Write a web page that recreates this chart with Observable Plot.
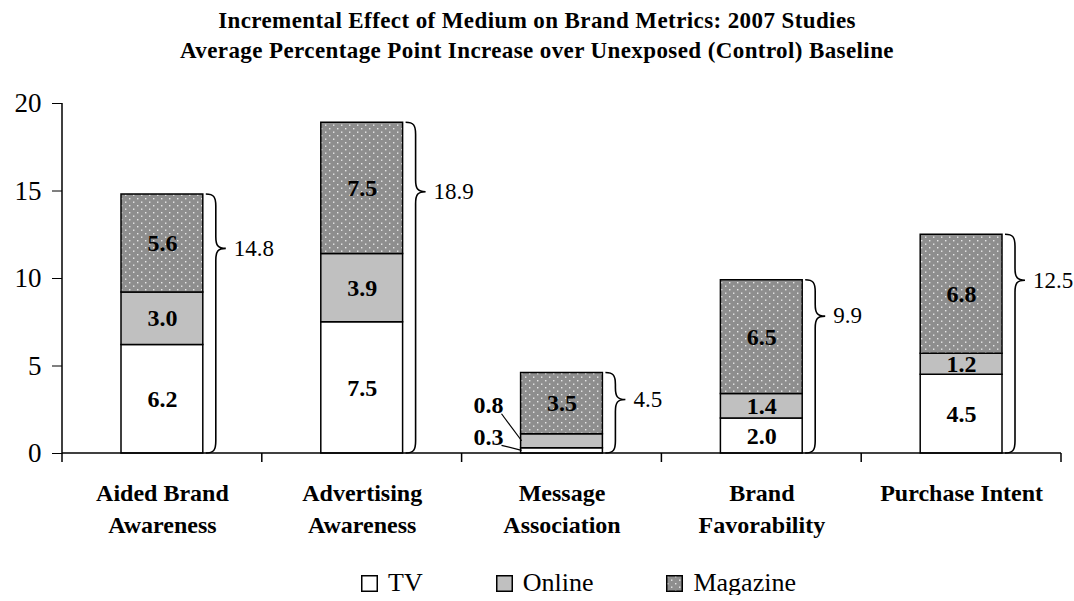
<!DOCTYPE html>
<html><head><meta charset="utf-8">
<script src="https://cdn.jsdelivr.net/npm/d3@7"></script>
<script src="https://cdn.jsdelivr.net/npm/@observablehq/plot@0.6"></script>
<style>
body{margin:0;background:#fff;font-family:"Liberation Serif","Times New Roman",serif;color:#000;}
#title{height:64px;box-sizing:border-box;padding-top:6px;text-align:center;font-weight:bold;font-size:23px;letter-spacing:0.4px;line-height:30px;white-space:nowrap;}
#legend{display:flex;align-items:center;margin-top:27px;height:24px;padding-left:361px;font-size:26px;line-height:24px;}
.item{display:flex;align-items:center;margin-right:73px}
.item svg{margin-right:10px;display:block}
</style></head><body>
<div id="title">Incremental Effect of Medium on Brand Metrics: 2007 Studies<br>Average Percentage Point Increase over Unexposed (Control) Baseline</div>
<div id="chart"></div>
<div id="legend"></div>
<script>
const categories = ["Aided Brand\nAwareness", "Advertising\nAwareness", "Message\nAssociation", "Brand\nFavorability", "Purchase Intent"];
const series = ["TV", "Online", "Magazine"];
const tv = [6.2, 7.5, 0.3, 2.0, 4.5];
const online = [3.0, 3.9, 0.8, 1.4, 1.2];
const magazine = [5.6, 7.5, 3.5, 6.5, 6.8];
const totals = [14.8, 18.9, 4.5, 9.9, 12.5];
const yTicks = [0, 5, 10, 15, 20];
const seriesFills = ["#ffffff", "#c0c0c0", "url(#magDots)"];
// labels drawn outside the bar with a leader line (category index, series index, pixel offsets)
const outsideLabels = [
  {cat: 2, ser: 1, dx: -73, dy: -35},
  {cat: 2, ser: 0, dx: -73, dy: -13}
];

const seriesValues = [tv, online, magazine];
const data = [];
categories.forEach((c, i) => {
  series.forEach((s, j) => {
    const outside = outsideLabels.some(o => o.cat === i && o.ser === j);
    data.push({cat: c, series: s, value: seriesValues[j][i], label: outside ? "" : seriesValues[j][i].toFixed(1)});
  });
});

const barInset = 59;
const patternDefs = (id) => `<defs><pattern id="${id}" width="8" height="7" patternUnits="userSpaceOnUse"><rect width="8" height="7" fill="#8e8e8e"/><rect x="1" y="1" width="1.4" height="1.4" fill="#e8e8e8"/><rect x="5" y="4.5" width="1.4" height="1.4" fill="#e8e8e8"/></pattern></defs>`;

function decor(index, scales, values, dimensions) {
  const x = scales.x, y = scales.y;
  const bw = x.bandwidth ? x.bandwidth() : (dimensions.width - dimensions.marginLeft - dimensions.marginRight) / categories.length;
  const left = dimensions.marginLeft, right = dimensions.width - dimensions.marginRight;
  const y0 = y(0);
  let s = "";
  s += `<line x1="${left}" x2="${left}" y1="${y(yTicks[yTicks.length - 1])}" y2="${y0 + 0.75}" stroke="black" stroke-width="1.5"/>`;
  s += `<line x1="${left}" x2="${right}" y1="${y0}" y2="${y0}" stroke="black" stroke-width="1.5"/>`;
  const bounds = categories.map(c => x(c)).concat([x(categories[categories.length - 1]) + bw]);
  bounds.forEach(b => { s += `<line x1="${b}" x2="${b}" y1="${y0}" y2="${y0 + 9}" stroke="black" stroke-width="1.5"/>`; });
  categories.forEach((c, i) => {
    const yt = y(tv[i] + online[i] + magazine[i]);
    const yb = y0;
    const xr = x(c) + bw - barInset;
    const x0 = xr + 3, xb = xr + 13, xt = xr + 23;
    const h = yb - yt;
    const tipY = yt + Math.max(0.21 * h, 27);
    const r = 12;
    const d = `M${x0},${yt} C${xb - 2},${yt} ${xb},${yt + 3} ${xb},${yt + r} L${xb},${tipY - r} C${xb},${tipY - 3} ${xb + 2},${tipY} ${xt},${tipY} C${xb + 2},${tipY} ${xb},${tipY + 3} ${xb},${tipY + r} L${xb},${yb - r} C${xb},${yb - 3} ${xb - 2},${yb} ${x0},${yb}`;
    s += `<path d="${d}" fill="none" stroke="black" stroke-width="1.6"/>`;
    s += `<text x="${xt + 8}" y="${tipY}" dy="0.32em" font-size="23" text-anchor="start">${totals[i].toFixed(1)}</text>`;
  });
  outsideLabels.forEach(o => {
    const c = categories[o.cat];
    let base = 0;
    for (let j = 0; j < o.ser; j++) base += seriesValues[j][o.cat];
    const v = seriesValues[o.ser][o.cat];
    const mid = y(base + v / 2);
    const barLeft = x(c) + barInset;
    const lx = x(c) + bw / 2 + o.dx, ly = mid + o.dy;
    s += `<text x="${lx}" y="${ly}" dy="0.32em" font-size="24" font-weight="bold" text-anchor="middle">${v.toFixed(1)}</text>`;
    s += `<line x1="${lx + 13}" y1="${ly + 8}" x2="${barLeft + 1}" y2="${mid}" stroke="black" stroke-width="1.2"/>`;
  });
  const g = document.createElementNS("http://www.w3.org/2000/svg", "g");
  g.innerHTML = patternDefs("magDots") + s;
  return g;
}

const chart = Plot.plot({
  width: 1074,
  height: 480,
  marginTop: 39,
  marginBottom: 91,
  marginLeft: 62,
  marginRight: 13,
  style: {fontFamily: "Liberation Serif, Times New Roman, serif", fontSize: "27px", color: "black", background: "white"},
  x: {domain: categories, padding: 0, round: false, axis: null},
  y: {domain: [0, 20], ticks: yTicks, tickSize: 10, tickPadding: 11, label: null, tickFormat: d3.format("d")},
  color: {type: "ordinal", domain: series, range: seriesFills},
  marks: [
    Plot.barY(data, {x: "cat", y: "value", fill: "series", stroke: "black", strokeWidth: 1.5, insetLeft: barInset, insetRight: barInset}),
    Plot.text(data, Plot.stackY({x: "cat", y: "value", z: "series", text: "label", fontWeight: "bold", fontSize: 24})),
    Plot.text(categories, {x: d => d, y: 0, text: d => d, dy: 25, lineAnchor: "top", lineHeight: 1.333, fontWeight: "bold", fontSize: 24}),
    decor
  ]
});
document.getElementById("chart").appendChild(chart);

const legend = document.getElementById("legend");
series.forEach((s, j) => {
  const item = document.createElement("div");
  item.className = "item";
  const fill = j === 2 ? "url(#magDotsLegend)" : seriesFills[j];
  item.innerHTML = `<svg width="17" height="17">${j === 2 ? patternDefs("magDotsLegend") : ""}<rect x="0.75" y="0.75" width="15.5" height="15.5" fill="${fill}" stroke="black" stroke-width="1.5"/></svg><span>${s}</span>`;
  legend.appendChild(item);
});
</script></body></html>
